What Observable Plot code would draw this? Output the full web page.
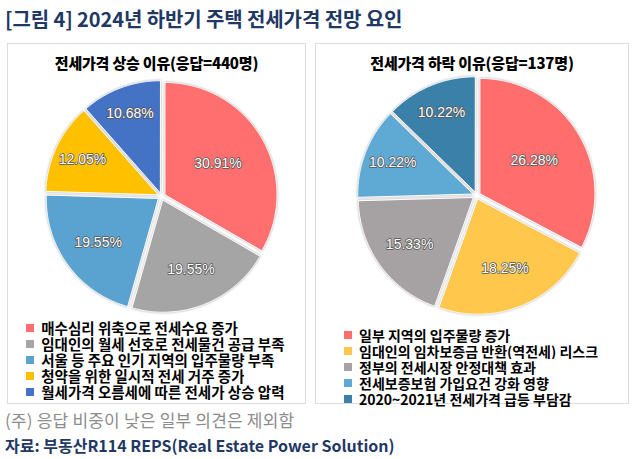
<!DOCTYPE html>
<html><head><meta charset="utf-8">
<script src="https://cdn.jsdelivr.net/npm/d3@7"></script>
<script src="https://cdn.jsdelivr.net/npm/@observablehq/plot@0.6"></script>
<style>
body{margin:0;background:#fff;width:633px;height:459px;position:relative;overflow:hidden;font-family:"Noto Sans CJK KR","Noto Sans",sans-serif;}
.abs{position:absolute;white-space:nowrap;}
#title{left:5px;top:4px;font-size:20px;font-weight:bold;color:#1f3864;letter-spacing:-0.1px;}
.panel{position:absolute;top:43px;height:361px;border:1px solid #dcdcdc;box-sizing:border-box;}
.ptitle{font-size:15px;font-weight:900;color:#000;text-align:center;letter-spacing:-0.2px;}
.pie path{filter:drop-shadow(0 0 1.2px rgba(0,0,0,0.35));}
#note{left:5px;top:407px;font-size:17px;color:#8c8c8c;letter-spacing:0.2px;}
#source{left:5px;top:433px;font-size:16px;font-weight:bold;color:#1f3864;}
.lg-swatch{padding-bottom:0 !important;overflow:visible !important;}
.lg-label{overflow:visible !important;text-overflow:clip !important;}
.lg{overflow:visible !important;}
</style>
</head><body>
<div id="title" class="abs">[그림 4] 2024년 하반기 주택 전세가격 전망 요인</div>
<div class="panel" style="left:7px;width:299px;"></div>
<div class="panel" style="left:315px;width:314px;"></div>
<div id="t1" class="abs ptitle" style="left:7px;width:299px;top:52px;"></div>
<div id="t2" class="abs ptitle" style="left:315px;width:314px;top:52px;"></div>
<div id="pie1" class="abs pie" style="left:7px;top:68px;"></div>
<div id="pie2" class="abs pie" style="left:315px;top:68px;"></div>
<div id="leg1" class="abs" style="left:26px;top:320px;width:280px;"></div>
<div id="leg2" class="abs" style="left:344px;top:327px;width:280px;"></div>
<div id="note" class="abs">(주) 응답 비중이 낮은 일부 의견은 제외함</div>
<div id="source" class="abs">자료: 부동산R114 REPS(Real Estate Power Solution)</div>
<script>
// ---- data ----
const upTitle = "전세가격 상승 이유(응답=440명)";
const upCategories = [
  "매수심리 위축으로 전세수요 증가",
  "임대인의 월세 선호로 전세물건 공급 부족",
  "서울 등 주요 인기 지역의 입주물량 부족",
  "청약을 위한 일시적 전세 거주 증가",
  "월세가격 오름세에 따른 전세가 상승 압력"
];
const upValues = [30.91, 19.55, 19.55, 12.05, 10.68];

const downTitle = "전세가격 하락 이유(응답=137명)";
const downCategories = [
  "일부 지역의 입주물량 증가",
  "임대인의 임차보증금 반환(역전세) 리스크",
  "정부의 전세시장 안정대책 효과",
  "전세보증보험 가입요건 강화 영향",
  "2020~2021년 전세가격 급등 부담감"
];
const downValues = [26.28, 18.25, 15.33, 10.22, 10.22];

// ---- styles ----
const upColors = ["#ff6f6f", "#a5a5a5", "#5aa3d0", "#ffc000", "#4472c4"];
const downColors = ["#ff6d6d", "#ffc84c", "#a6a2a3", "#5fa9d5", "#3b80a8"];

function pieChart(cats, vals, colors, W, H, cx, cy, r, explode) {
  const arcs = d3.pie().sort(null).value(d => d)(vals);
  const pts = [], labels = [];
  arcs.forEach((a, i) => {
    const mid = (a.startAngle + a.endAngle) / 2;
    const ox = explode * Math.sin(mid), oy = -explode * Math.cos(mid);
    pts.push({name: cats[i], x: ox, y: oy});
    const n = Math.max(2, Math.ceil((a.endAngle - a.startAngle) / (Math.PI / 360)));
    for (let k = 0; k <= n; k++) {
      const t = a.startAngle + (a.endAngle - a.startAngle) * k / n;
      pts.push({name: cats[i], x: ox + r * Math.sin(t), y: oy - r * Math.cos(t)});
    }
    const deg = (a.endAngle - a.startAngle) * 180 / Math.PI;
    const f = 0.87 - 0.0027 * deg;
    labels.push({x: ox + f * r * Math.sin(mid), y: oy - f * r * Math.cos(mid), text: vals[i].toFixed(2) + "%"});
  });
  return Plot.plot({
    width: W, height: H, margin: 0,
    x: {domain: [-cx, W - cx], range: [0, W], axis: null},
    y: {domain: [-cy, H - cy], range: [0, H], axis: null},
    color: {domain: cats, range: colors},
    style: {background: "transparent", overflow: "visible"},
    marks: [
      Plot.line(pts, {x: "x", y: "y", z: "name", fill: "name", stroke: "white", strokeWidth: 1, curve: "linear-closed"}),
      Plot.text(labels, {x: "x", y: "y", text: "text", fill: "white", stroke: "#555", strokeWidth: 1.5,
        fontSize: 14, fontFamily: "Liberation Sans, Arial, sans-serif"})
    ]
  });
}

function legend(cats, colors, size) {
  return Plot.legend({
    color: {domain: cats, range: colors},
    legend: "swatches", columns: 1, swatchSize: 8, className: "lg",
    style: {fontSize: size, fontWeight: "bold", color: "#000", lineHeight: "16px",
      fontFamily: "'Noto Sans CJK KR', sans-serif", marginLeft: "0px", overflow: "visible"}
  });
}

document.getElementById("t1").textContent = upTitle;
document.getElementById("t2").textContent = downTitle;
document.getElementById("pie1").append(pieChart(upCategories, upValues, upColors, 299, 256, 154, 128, 112, 4));
document.getElementById("pie2").append(pieChart(downCategories, downValues, downColors, 314, 256, 161, 127, 115, 4));
document.getElementById("leg1").append(legend(upCategories, upColors, "14.5px"));
document.getElementById("leg2").append(legend(downCategories, downColors, "14px"));
</script>
</body></html>
